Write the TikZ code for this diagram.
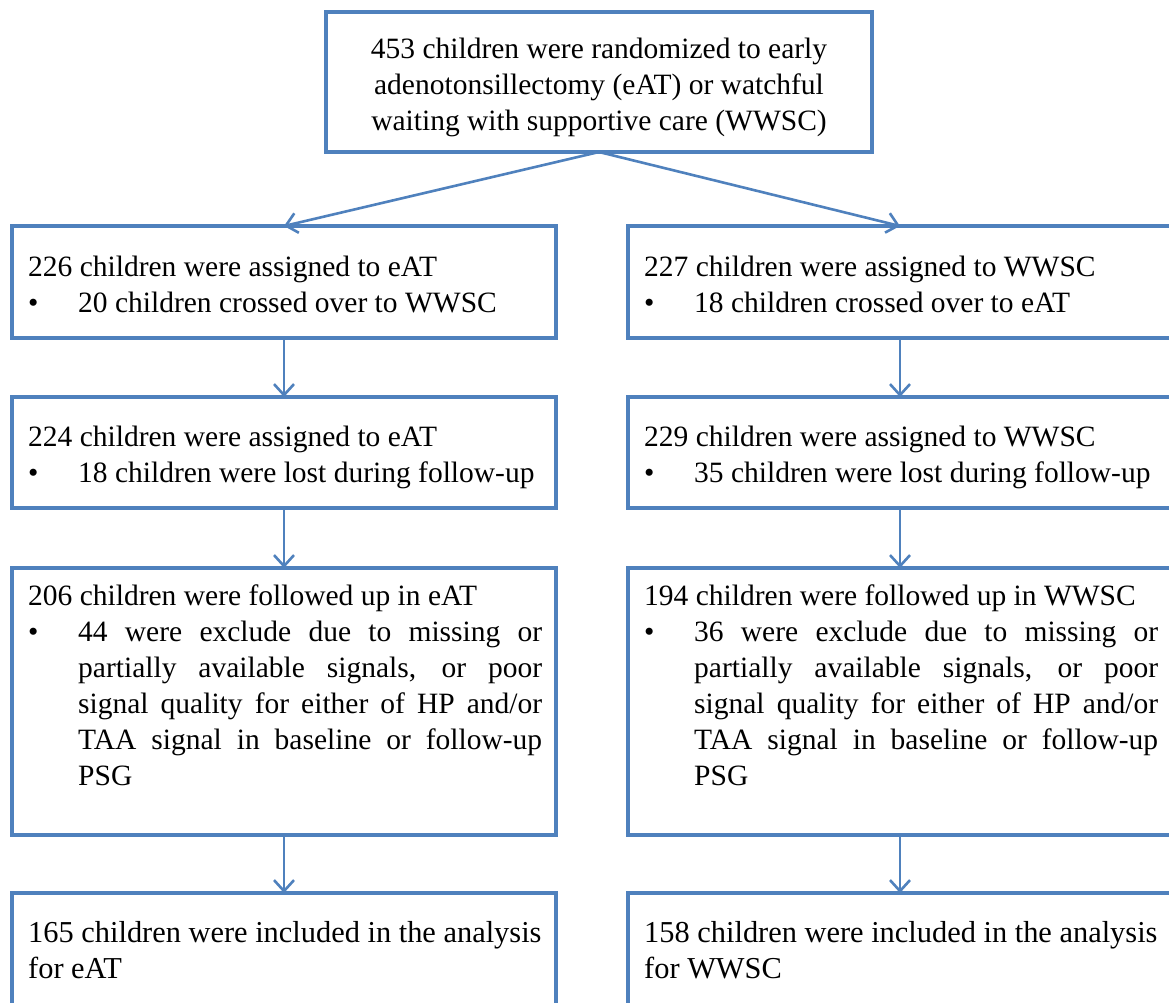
\documentclass[tikz,border=0pt]{standalone}
\usepackage{fontspec}
\setmainfont{Liberation Serif}
\usetikzlibrary{arrows.meta}
\definecolor{boxblue}{RGB}{79,129,189}
\tikzset{
  box/.style={draw=boxblue, line width=4.8pt, minimum width=544pt, inner sep=0pt, outer sep=0pt},
  conn/.style={draw=boxblue, line width=2.6pt, -{Straight Barb[length=11pt,width=20pt]}},
  txt/.style={anchor=base west, inner sep=0pt, align=left, font=\fontsize{29.5pt}{36pt}\selectfont},
  bigtxt/.style={txt, font=\fontsize{30.4pt}{36pt}\selectfont},
}
\newcommand{\bul}{\makebox[50pt][l]{\textbullet}}
\newcommand{\jl}[1]{\makebox[464pt][s]{#1}}
\begin{document}
\begin{tikzpicture}[x=1pt,y=-1pt]
\useasboundingbox (0,0) rectangle (1169,1002);
\fill[white] (0,0) rectangle (1169,1002);
% boxes
\node[box, minimum width=546pt, minimum height=140pt] (top) at (599,82) {};
\node[box, minimum height=112pt] (L1) at (284,282) {};
\node[box, minimum height=111pt] (L2) at (284,452.5) {};
\node[box, minimum height=267pt] (L3) at (284,701.5) {};
\node[box, minimum height=112pt] (L4) at (284,949) {};
\node[box, minimum height=112pt] (R1) at (900,282) {};
\node[box, minimum height=111pt] (R2) at (900,452.5) {};
\node[box, minimum height=267pt] (R3) at (900,701.5) {};
\node[box, minimum height=112pt] (R4) at (900,949) {};
% texts (base anchor = baseline of the last line)
\node[txt, anchor=base, align=center] (ttop) at (599,130) {453 children were randomized to early\\adenotonsillectomy (eAT) or watchful\\waiting with supportive care (WWSC)};
\node[txt] (tL1) at (28,312) {226 children were assigned to eAT\\\bul 20 children crossed over to WWSC};
\node[txt] (tL2) at (28,482) {224 children were assigned to eAT\\\bul 18 children were lost during follow-up};
\node[txt] (tL3) at (28,785) {206 children were followed up in eAT\\
\bul\jl{44 were exclude due to missing or}\\
\hspace*{50pt}\jl{partially available signals, or poor}\\
\hspace*{50pt}\jl{signal quality for either of HP and/or}\\
\hspace*{50pt}\jl{TAA signal in baseline or follow-up}\\
\hspace*{50pt}PSG};
\node[bigtxt] (tL4) at (28,978) {165 children were included in the analysis\\for eAT};
\node[txt] (tR1) at (644,312) {227 children were assigned to WWSC\\\bul 18 children crossed over to eAT};
\node[txt] (tR2) at (644,482) {229 children were assigned to WWSC\\\bul 35 children were lost during follow-up};
\node[txt] (tR3) at (644,785) {194 children were followed up in WWSC\\
\bul\jl{36 were exclude due to missing or}\\
\hspace*{50pt}\jl{partially available signals, or poor}\\
\hspace*{50pt}\jl{signal quality for either of HP and/or}\\
\hspace*{50pt}\jl{TAA signal in baseline or follow-up}\\
\hspace*{50pt}PSG};
\node[bigtxt] (tR4) at (644,978) {158 children were included in the analysis\\for WWSC};
% connectors
\draw[conn] (top.south) -- (L1.north);
\draw[conn] (top.south) -- (R1.north);
\draw[conn] (L1.south) -- (L2.north);
\draw[conn] (L2.south) -- (L3.north);
\draw[conn] (L3.south) -- (L4.north);
\draw[conn] (R1.south) -- (R2.north);
\draw[conn] (R2.south) -- (R3.north);
\draw[conn] (R3.south) -- (R4.north);
\end{tikzpicture}
\end{document}
